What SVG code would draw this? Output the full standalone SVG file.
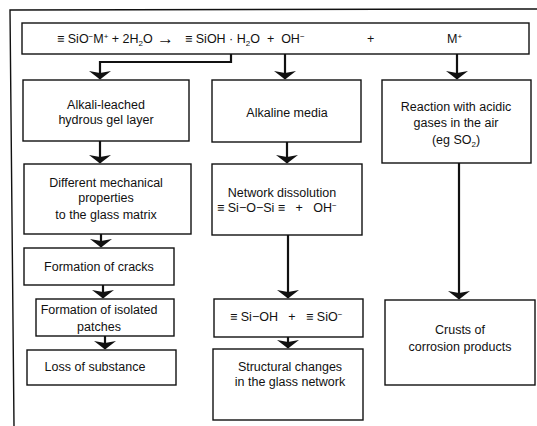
<svg xmlns="http://www.w3.org/2000/svg" width="537" height="426" viewBox="0 0 537 426">
<style>
.box{fill:#fff;stroke:#111;stroke-width:1.4}
.t{font-family:"Liberation Sans",Arial,sans-serif;font-size:12.5px;fill:#111;text-anchor:middle}
.ts{font-family:"Liberation Sans",Arial,sans-serif;font-size:12.5px;fill:#111}
.c{fill:none;stroke:#111;stroke-width:2.2}
.fr{fill:none;stroke:#111;stroke-width:1.4}
</style>
<defs>
<marker id="ah" markerUnits="userSpaceOnUse" viewBox="-10 -12 11 24" refX="0" refY="0" markerWidth="11" markerHeight="24" orient="auto">
<path d="M0.5,0 L-8,-11 L-6,0 L-8,11 Z" fill="#111"/>
</marker>
</defs>
<rect width="537" height="426" fill="#fff"/>
<g id="frame">
<path class="fr" d="M537,9 L10,10 L14,426"/>
</g>
<g id="connectors">
<path class="c" d="M231,54 V62 H100 V79" marker-end="url(#ah)"/>
<path class="c" d="M285,54 V79" marker-end="url(#ah)"/>
<path class="c" d="M457,54 V79" marker-end="url(#ah)"/>
<path class="c" d="M100,141 V163" marker-end="url(#ah)"/>
<path class="c" d="M101,234 V247" marker-end="url(#ah)"/>
<path class="c" d="M103,285 V298" marker-end="url(#ah)"/>
<path class="c" d="M105,336 V349" marker-end="url(#ah)"/>
<path class="c" d="M287,142 V163" marker-end="url(#ah)"/>
<path class="c" d="M288,235 V298" marker-end="url(#ah)"/>
<path class="c" d="M288,337 V348" marker-end="url(#ah)"/>
<path class="c" d="M459,163 V299" marker-end="url(#ah)"/>
</g>
<g id="equation">
<rect class="box" x="22" y="23" width="507" height="31"/>
<text class="ts" x="57" y="43" xml:space="preserve">≡ SiO<tspan dy="-4" font-size="8">−</tspan><tspan dy="4">M</tspan><tspan dy="-4" font-size="8">+</tspan><tspan dy="4"> + 2H</tspan><tspan dy="3" font-size="8">2</tspan><tspan dy="-3">O</tspan></text>
<text class="ts" x="157" y="44" style="font-size:17px">→</text>
<text class="ts" x="185" y="43" xml:space="preserve">≡ SiOH · H<tspan dy="3" font-size="8">2</tspan><tspan dy="-3">O  +  OH</tspan><tspan dy="-4" font-size="8">−</tspan></text>
<text class="ts" x="367" y="43">+</text>
<text class="ts" x="447" y="43">M<tspan dy="-4" font-size="8">+</tspan></text>
</g>
<g id="gel">
<rect class="box" x="23" y="80" width="166" height="61"/>
<text class="t" x="106" y="109">Alkali-leached</text>
<text class="t" x="106" y="124">hydrous gel layer</text>
</g>
<g id="alkaline">
<rect class="box" x="212" y="80" width="149" height="62"/>
<text class="t" x="287" y="117">Alkaline media</text>
</g>
<g id="acidic">
<rect class="box" x="382" y="80" width="149" height="83"/>
<text class="t" x="456" y="111">Reaction with acidic</text>
<text class="t" x="456" y="127">gases in the air</text>
<text class="t" x="456" y="144">(eg SO<tspan dy="3" font-size="8">2</tspan><tspan dy="-3">)</tspan></text>
</g>
<g id="mechanical">
<rect class="box" x="24" y="164" width="167" height="70"/>
<text class="t" x="106" y="187">Different mechanical</text>
<text class="t" x="106" y="202">properties</text>
<text class="t" x="106" y="219">to the glass matrix</text>
</g>
<g id="dissolution">
<rect class="box" x="212" y="164" width="150" height="71"/>
<text class="t" x="282" y="197">Network dissolution</text>
<text class="ts" x="217" y="212" xml:space="preserve">≡ Si−O−Si ≡   +   OH<tspan dy="-4" font-size="8">−</tspan></text>
</g>
<g id="cracks">
<rect class="box" x="24" y="248" width="150" height="37"/>
<text class="t" x="99" y="271">Formation of cracks</text>
</g>
<g id="patches">
<rect class="box" x="36" y="299" width="138" height="37"/>
<text class="t" x="99" y="314">Formation of isolated</text>
<text class="t" x="99" y="331">patches</text>
</g>
<g id="loss">
<rect class="box" x="27" y="350" width="149" height="35"/>
<text class="t" x="95" y="371">Loss of substance</text>
</g>
<g id="silanol">
<rect class="box" x="214" y="299" width="149" height="38"/>
<text class="ts" x="230" y="321" xml:space="preserve">≡ Si−OH   +   ≡ SiO<tspan dy="-4" font-size="8">−</tspan></text>
</g>
<g id="structural">
<rect class="box" x="213" y="349" width="150" height="71"/>
<text class="t" x="290" y="371">Structural changes</text>
<text class="t" x="290" y="386">in the glass network</text>
</g>
<g id="crusts">
<rect class="box" x="385" y="300" width="150" height="85"/>
<text class="t" x="460" y="334">Crusts of</text>
<text class="t" x="460" y="351">corrosion products</text>
</g>
</svg>
